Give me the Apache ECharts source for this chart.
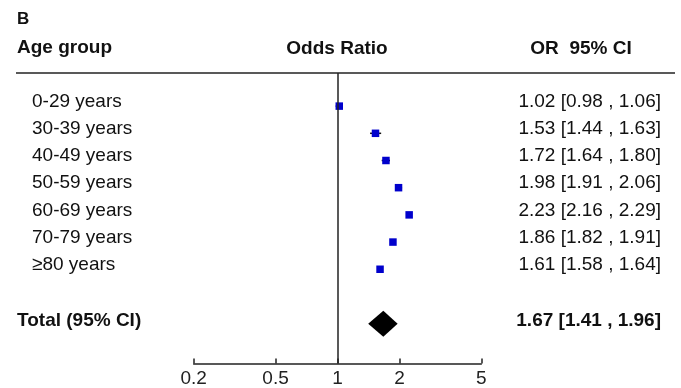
<!DOCTYPE html>
<html>
<head>
<meta charset="utf-8">
<script src="https://cdn.jsdelivr.net/npm/echarts@6/dist/echarts.min.js"></script>
<style>html,body{margin:0;padding:0;background:#fff}#c{width:681px;height:388px}</style>
</head>
<body>
<div id="c"></div>
<script>
const categories = ['0-29 years', '30-39 years', '40-49 years', '50-59 years', '60-69 years', '70-79 years', '≥80 years'];
const orValues = [1.02, 1.53, 1.72, 1.98, 2.23, 1.86, 1.61];
const ciLower = [0.98, 1.44, 1.64, 1.91, 2.16, 1.82, 1.58];
const ciUpper = [1.06, 1.63, 1.80, 2.06, 2.29, 1.91, 1.64];
const rowPositions = [0, 1, 2, 3, 4, 5, 6];
const totalLabel = ['Total (95% CI)'];
const totalOR = [1.67];
const totalLower = [1.41];
const totalUpper = [1.96];
const totalPosition = [8];
const xTicks = [0.2, 0.5, 1, 2, 5];

const FONT = 'Liberation Sans, Arial, Helvetica, sans-serif';
const FS = 19;
const fmt = v => v.toFixed(2);

const chart = echarts.init(document.getElementById('c'), null, {renderer: 'canvas'});

const rowData = categories.map((c, i) => [ciLower[i], ciUpper[i], rowPositions[i], orValues[i]]);
const totalData = totalLabel.map((c, i) => [totalLower[i], totalUpper[i], totalPosition[i], totalOR[i]]);

chart.setOption({
  animation: false,
  backgroundColor: '#fff',
  textStyle: {fontFamily: FONT},
  grid: {left: 193.7, right: 199.7, top: 73, bottom: 23},
  xAxis: {
    type: 'log',
    min: 0.2,
    max: 5,
    axisLine: {show: true, onZero: false, lineStyle: {color: '#222', width: 1.5}},
    axisTick: {show: true, inside: true, length: 5, customValues: xTicks, lineStyle: {color: '#222', width: 1.5}},
    axisLabel: {customValues: xTicks, color: '#222', fontSize: FS, fontFamily: FONT, margin: 5.5,
      formatter: v => String(+v.toPrecision(3))},
    splitLine: {show: false},
    minorTick: {show: false}
  },
  yAxis: {
    type: 'value',
    inverse: true,
    min: -1.218,
    max: 9.466,
    show: false
  },
  graphic: [
    {type: 'text', left: 17, top: 11, style: {text: 'B', font: 'bold 17px ' + FONT, fill: '#111'}},
    {type: 'text', left: 17, top: 38.5, style: {text: 'Age group', font: 'bold ' + FS + 'px ' + FONT, fill: '#111'}},
    {type: 'text', x: 337, y: 48.5, style: {text: 'Odds Ratio', font: 'bold ' + FS + 'px ' + FONT, fill: '#111', align: 'center', verticalAlign: 'middle'}},
    {type: 'text', x: 581, y: 48.5, style: {text: 'OR  95% CI', font: 'bold ' + FS + 'px ' + FONT, fill: '#111', align: 'center', verticalAlign: 'middle'}},
    {type: 'line', shape: {x1: 16, y1: 73, x2: 675, y2: 73}, style: {stroke: '#222', lineWidth: 1.5}}
  ],
  series: [
    {
      type: 'custom',
      name: 'ci',
      data: rowData,
      encode: {x: [0, 1], y: 2},
      renderItem: (params, api) => {
        const p1 = api.coord([api.value(0), api.value(2)]);
        const p2 = api.coord([api.value(1), api.value(2)]);
        return {type: 'line', shape: {x1: p1[0], y1: p1[1], x2: p2[0], y2: p2[1]}, style: {stroke: '#111', lineWidth: 1.5}};
      },
      z: 2
    },
    {
      type: 'scatter',
      name: 'OR',
      data: orValues.map((v, i) => [v, rowPositions[i]]),
      symbol: 'rect',
      symbolSize: 7.5,
      itemStyle: {color: '#0000CC', opacity: 1},
      z: 3,
      markLine: {
        silent: true,
        symbol: 'none',
        label: {show: false},
        lineStyle: {color: '#222', width: 1.5, type: 'solid'},
        data: [{xAxis: 1}]
      }
    },
    {
      type: 'custom',
      name: 'total',
      data: totalData,
      encode: {x: [0, 1], y: 2},
      renderItem: (params, api) => {
        const l = api.coord([api.value(0), api.value(2)]);
        const r = api.coord([api.value(1), api.value(2)]);
        const m = api.coord([api.value(3), api.value(2)]);
        const h = 13;
        return {type: 'polygon', shape: {points: [[l[0], l[1]], [m[0], m[1] - h], [r[0], r[1]], [m[0], m[1] + h]]}, style: {fill: '#000'}};
      },
      z: 3
    },
    {
      type: 'custom',
      name: 'rowText',
      data: rowData,
      encode: {y: 2},
      renderItem: (params, api) => {
        const i = params.dataIndex;
        const p = api.coord([1, api.value(2)]);
        const y = p[1] - 4.5;
        return {type: 'group', children: [
          {type: 'text', x: 32, y: y, style: {text: categories[i], font: FS + 'px ' + FONT, fill: '#111', align: 'left', verticalAlign: 'middle'}},
          {type: 'text', x: 661, y: y, style: {text: fmt(orValues[i]) + ' [' + fmt(ciLower[i]) + ' , ' + fmt(ciUpper[i]) + ']', font: FS + 'px ' + FONT, fill: '#111', align: 'right', verticalAlign: 'middle'}}
        ]};
      }
    },
    {
      type: 'custom',
      name: 'totalText',
      data: totalData,
      encode: {y: 2},
      renderItem: (params, api) => {
        const i = params.dataIndex;
        const p = api.coord([1, api.value(2)]);
        const y = p[1] - 3;
        return {type: 'group', children: [
          {type: 'text', x: 17, y: y, style: {text: totalLabel[i], font: 'bold ' + FS + 'px ' + FONT, fill: '#111', align: 'left', verticalAlign: 'middle'}},
          {type: 'text', x: 661, y: y, style: {text: fmt(totalOR[i]) + ' [' + fmt(totalLower[i]) + ' , ' + fmt(totalUpper[i]) + ']', font: 'bold ' + FS + 'px ' + FONT, fill: '#111', align: 'right', verticalAlign: 'middle'}}
        ]};
      }
    }
  ]
});
</script>
</body>
</html>
